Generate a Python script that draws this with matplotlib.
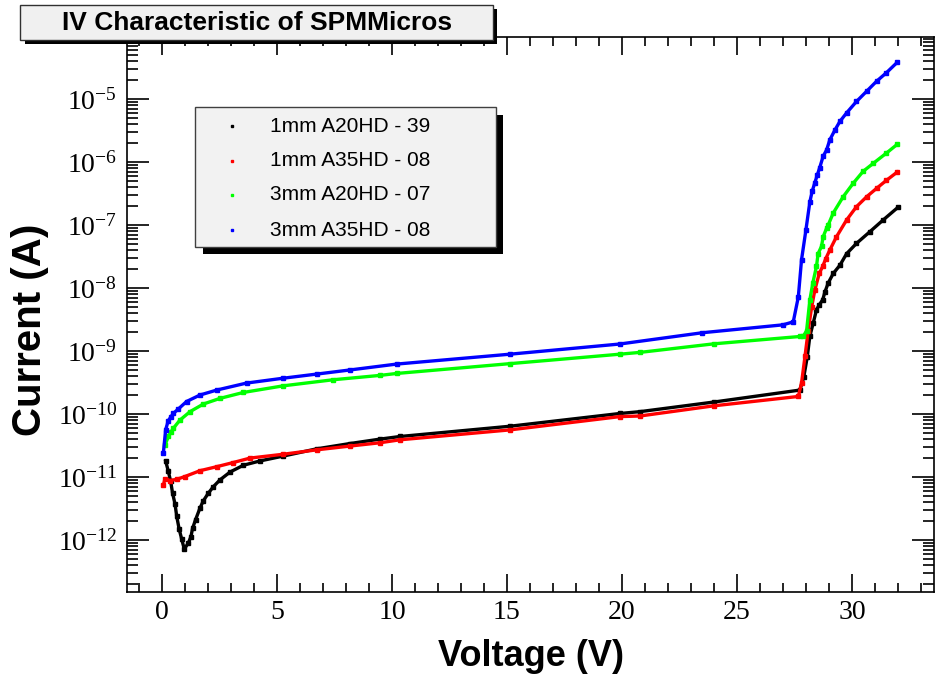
import math
import matplotlib
matplotlib.use("Agg")
import matplotlib.pyplot as plt
from matplotlib.patches import Rectangle
from matplotlib.lines import Line2D
from matplotlib.ticker import FixedLocator, FuncFormatter, LogLocator, NullFormatter

# ---- measured IV curves (voltage in V, current in A) ----
v_1mm_a20 = [0.16, 0.27, 0.38, 0.46, 0.57, 0.64, 0.75, 0.86, 0.97, 1.14, 1.26, 1.33, 1.46,
             1.65, 1.80, 2.01, 2.23, 2.52, 2.96, 3.54, 4.26, 5.27, 6.72, 8.17, 9.48, 10.35,
             15.13, 19.91, 20.78, 24.0, 27.74, 27.91, 28.06, 28.17, 28.32, 28.46, 28.58,
             28.73, 28.83, 28.97, 29.19, 29.48, 29.77, 30.2, 30.78, 31.36, 32.0]
i_1mm_a20 = [1.8e-11, 1.26e-11, 8.5e-12, 5.6e-12, 3.7e-12, 2.4e-12, 1.48e-12, 1.03e-12, 7.2e-13,
             8.9e-13, 1.13e-12, 1.53e-12, 2.1e-12, 3.2e-12, 4.2e-12, 5.5e-12, 7.0e-12, 9.0e-12,
             1.2e-11, 1.54e-11, 1.8e-11, 2.15e-11, 2.8e-11, 3.4e-11, 4.0e-11, 4.4e-11, 6.4e-11,
             1.02e-10, 1.09e-10, 1.55e-10, 2.4e-10, 3.9e-10, 8.1e-10, 1.7e-9, 2.8e-9, 4.5e-9,
             5.4e-9, 6.5e-9, 8.7e-9, 1.2e-8, 1.7e-8, 2.3e-8, 3.5e-8, 5.1e-8, 7.8e-8, 1.2e-7, 1.9e-7]

v_1mm_a35 = [0.06, 0.13, 0.35, 0.64, 1.0, 1.65, 2.38, 3.1, 3.83, 5.27, 6.72, 8.17, 9.48, 10.35,
             15.13, 19.91, 20.78, 24.0, 27.67, 27.81, 27.96, 28.1, 28.25, 28.39, 28.58, 28.73,
             28.86, 29.04, 29.33, 29.77, 30.2, 30.64, 31.07, 31.5, 31.97]
i_1mm_a35 = [7.5e-12, 9.3e-12, 8.8e-12, 9.2e-12, 1.02e-11, 1.26e-11, 1.46e-11, 1.7e-11, 2.0e-11,
             2.3e-11, 2.7e-11, 3.1e-11, 3.5e-11, 3.9e-11, 5.6e-11, 9.1e-11, 9.3e-11, 1.35e-10,
             1.9e-10, 3.1e-10, 8.2e-10, 2.1e-9, 5.0e-9, 9.3e-9, 1.7e-8, 2.2e-8, 2.9e-8, 4.0e-8,
             6.5e-8, 1.2e-7, 1.95e-7, 2.8e-7, 3.8e-7, 5.1e-7, 6.9e-7]

v_3mm_a20 = [0.13, 0.28, 0.38, 0.49, 0.78, 1.22, 1.80, 2.52, 3.54, 5.27, 7.45, 9.48, 10.2, 15.13,
             19.91, 20.78, 24.0, 27.74, 27.88, 28.03, 28.17, 28.3, 28.46, 28.53, 28.68, 28.75,
             28.9, 28.97, 29.19, 29.62, 30.06, 30.49, 30.93, 31.5, 31.97]
i_3mm_a20 = [3.2e-11, 4.4e-11, 5.1e-11, 5.9e-11, 8.0e-11, 1.09e-10, 1.44e-10, 1.77e-10, 2.2e-10,
             2.8e-10, 3.5e-10, 4.1e-10, 4.4e-10, 6.3e-10, 8.9e-10, 9.5e-10, 1.3e-9, 1.7e-9, 1.7e-9,
             2.1e-9, 6.4e-9, 1.2e-8, 2.2e-8, 3.5e-8, 4.6e-8, 6.5e-8, 8.9e-8, 1.0e-7, 1.55e-7,
             2.8e-7, 4.6e-7, 7.1e-7, 9.5e-7, 1.38e-6, 1.9e-6]

v_3mm_a35 = [0.06, 0.16, 0.27, 0.38, 0.49, 0.71, 1.07, 1.65, 2.38, 3.68, 5.27, 6.72, 8.17, 10.2,
             15.13, 19.9, 23.5, 27.0, 27.45, 27.67, 27.81, 28.0, 28.17, 28.27, 28.39, 28.5, 28.6,
             28.75, 28.9, 29.04, 29.26, 29.48, 29.77, 30.2, 30.64, 31.07, 31.5, 31.97]
i_3mm_a35 = [2.4e-11, 5.6e-11, 7.8e-11, 8.9e-11, 1.02e-10, 1.2e-10, 1.58e-10, 2.0e-10, 2.4e-10,
             3.1e-10, 3.7e-10, 4.3e-10, 5.0e-10, 6.2e-10, 8.9e-10, 1.29e-9, 1.95e-9, 2.6e-9, 2.9e-9,
             7.2e-9, 2.8e-8, 8.3e-8, 2.3e-7, 3.4e-7, 4.7e-7, 6.3e-7, 8.1e-7, 1.23e-6, 1.55e-6,
             2.24e-6, 3.2e-6, 4.4e-6, 6.0e-6, 9.1e-6, 1.32e-5, 1.9e-5, 2.6e-5, 3.8e-5]

series_labels = ["1mm A20HD - 39", "1mm A35HD - 08", "3mm A20HD - 07", "3mm A35HD - 08"]
series_colors = ["#000000", "#ff0000", "#00ff00", "#0000ff"]
series_v = [v_1mm_a20, v_1mm_a35, v_3mm_a20, v_3mm_a35]
series_i = [i_1mm_a20, i_1mm_a35, i_3mm_a20, i_3mm_a35]

x_major = [0, 5, 10, 15, 20, 25, 30]
y_decades = [-12, -11, -10, -9, -8, -7, -6, -5]

title_text = "IV Characteristic of SPMMicros"
x_title = "Voltage (V)"
y_title = "Current (A)"

# ---- figure ----
W, H = 938, 678
plt.rcParams['mathtext.fontset'] = 'custom'
plt.rcParams['mathtext.rm'] = 'Liberation Serif'
plt.rcParams['mathtext.it'] = 'Liberation Serif'

fig = plt.figure(figsize=(W / 100, H / 100), dpi=100)
fig.patch.set_facecolor("white")


def fx(px):
    return px / W


def fy(py):
    return 1 - py / H


ax = fig.add_axes([fx(127), fy(592), fx(934) - fx(127), fy(37) - fy(592)])
ax.set_yscale("log")
ax.set_xlim(-1.52, 33.57)
ax.set_ylim(1.5e-13, 9.6e-5)

for v, i, c in zip(series_v, series_i, series_colors):
    ax.plot(v, i, color=c, lw=2.4, marker="s", ms=2.2, mec=c, mfc=c, solid_joinstyle="round")


def decade_label(val, pos):
    e = round(math.log10(val))
    return r"$\mathrm{10^{%d}}$" % e if e in y_decades else ""


# ticks in ROOT style: inside on all four sides
ax.xaxis.set_major_locator(FixedLocator(x_major))
ax.xaxis.set_minor_locator(FixedLocator(list(range(-1, 34))))
ax.yaxis.set_major_locator(LogLocator(base=10, numticks=30))
ax.yaxis.set_minor_locator(LogLocator(base=10, subs=[2, 3, 4, 5, 6, 7, 8, 9], numticks=30))
ax.yaxis.set_major_formatter(FuncFormatter(decade_label))
ax.yaxis.set_minor_formatter(NullFormatter())
ax.xaxis.set_major_formatter(FuncFormatter(lambda val, pos: "%d" % val))

ax.tick_params(axis="both", which="both", direction="in", top=True, right=True,
               width=1.2, colors="black")
ax.tick_params(axis="x", which="major", length=13, pad=6)
ax.tick_params(axis="x", which="minor", length=6.5)
ax.tick_params(axis="y", which="major", length=16, pad=7)
ax.tick_params(axis="y", which="minor", length=8)
for lab in ax.get_xticklabels() + ax.get_yticklabels():
    lab.set_fontfamily("Liberation Serif")
    lab.set_fontsize(20)
for sp in ax.spines.values():
    sp.set_linewidth(1.2)

ax.set_xlabel(x_title, fontfamily="Liberation Sans", fontweight="bold", fontsize=26)
ax.xaxis.set_label_coords(0.5, -0.085)
ax.set_ylabel(y_title, fontfamily="Liberation Sans", fontweight="bold", fontsize=29)
ax.yaxis.set_label_coords(-0.097, 0.472)


# ---- title box with drop shadow ----
def box(x0, y0, x1, y1, face, edge, lw, z):
    r = Rectangle((fx(x0), fy(y1)), fx(x1) - fx(x0), fy(y0) - fy(y1),
                  transform=fig.transFigure, facecolor=face, edgecolor=edge, lw=lw, zorder=z)
    fig.patches.append(r)


box(25, 9, 497, 44, "#000000", "none", 0, 5)
box(20, 5, 493, 40, "#f0f0f0", "#303030", 1.0, 6)
fig.text(fx(257), fy(23), title_text, ha="center", va="center", fontfamily="Liberation Sans",
         fontweight="bold", fontsize=19, zorder=7)

# ---- legend box with drop shadow ----
box(203, 115, 503, 254, "#000000", "none", 0, 5)
box(195, 107, 496, 247, "#f2f2f2", "#404040", 1.0, 6)
rows_y = [126, 161, 195, 230]
for lab, c, ry in zip(series_labels, series_colors, rows_y):
    fig.lines.append(Line2D([fx(232)], [fy(ry)], transform=fig.transFigure, marker="s", ms=1.6,
                            color=c, mec=c, ls="none", zorder=7))
    fig.text(fx(270), fy(ry), lab, ha="left", va="center", fontfamily="Liberation Sans",
             fontsize=15, zorder=7)

fig.savefig("out.png", dpi=100)
